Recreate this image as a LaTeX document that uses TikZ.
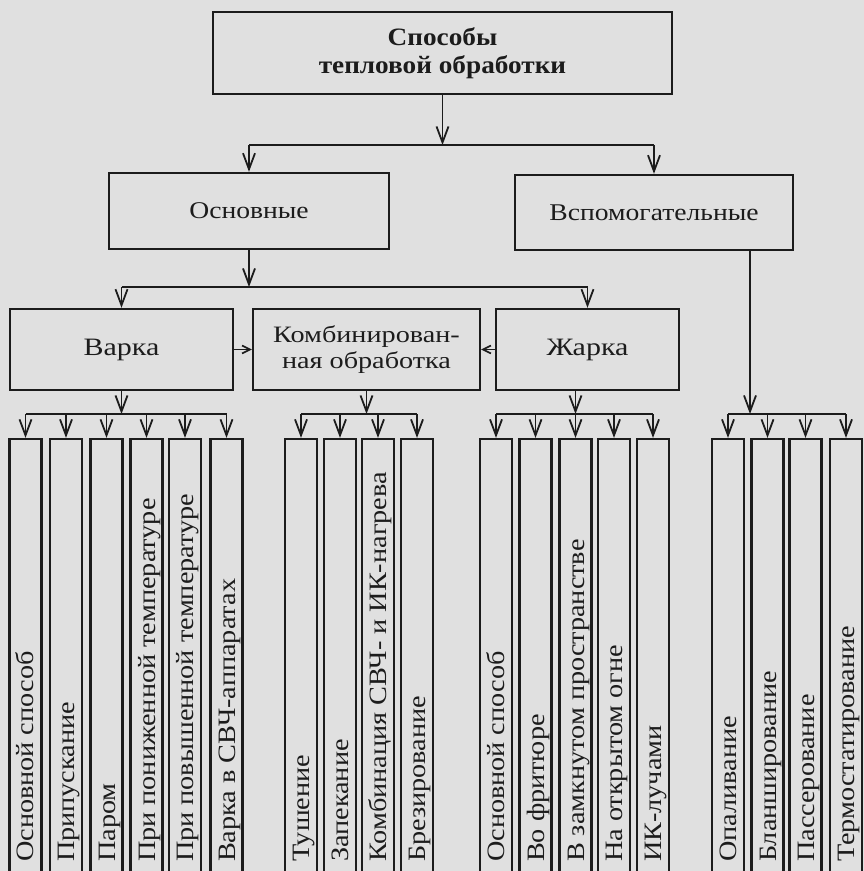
\documentclass[tikz,border=0pt]{standalone}
\usepackage{fontspec}
\setmainfont{Liberation Serif}
\newfontfamily\headfont[FakeStretch=1.09]{Liberation Serif}
\newfontfamily\firstfont[FakeStretch=1.15]{Liberation Serif}
\newfontfamily\secondfont[FakeStretch=1.2]{Liberation Serif}
\newfontfamily\leaffont[FakeStretch=1.13]{Liberation Serif}
\usetikzlibrary{arrows.meta,calc}
\definecolor{paper}{RGB}{224,224,224}
\definecolor{inkc}{RGB}{28,28,28}
\begin{document}
\begin{tikzpicture}[x=1pt,y=-1pt,
  hbox/.style={draw=inkc,line width=2.4pt,rectangle,inner sep=0pt,align=center,
    text=inkc},
  firstrow/.style={hbox,font=\firstfont\fontsize{24}{26}\selectfont},
  secondrow/.style={hbox,font=\secondfont\fontsize{25}{26}\selectfont},
  leaf/.style={draw=inkc,line width=2.2pt,rectangle,inner sep=0pt,
    minimum width=32pt,minimum height=435pt},
  leaftext/.style={rotate=90,anchor=base west,inner sep=0pt,text=inkc,
    font=\leaffont\fontsize{25}{25}\selectfont},
  arr/.style={draw=inkc,line width=1.8pt,-{Straight Barb[length=16pt,width=12pt]}},
  sidearr/.style={draw=inkc,line width=1.6pt,-{Straight Barb[length=8pt,width=8pt]}},
  bus/.style={draw=inkc,line width=1.8pt}]

% sheet
\fill[paper] (0,0) rectangle (864,871);
\useasboundingbox (0,0) rectangle (864,871);
\clip (0,0) rectangle (864,871);

% levels of the bus lines
\coordinate (b0) at (0,145);
\coordinate (b1) at (0,287);
\coordinate (b2) at (0,414);
\coordinate (vt) at (750,0);

% upper boxes
\node[hbox,font=\headfont\bfseries\fontsize{25}{28}\selectfont,minimum width=459pt,minimum height=82pt]
  (top) at (442.5,53) {Способы\\тепловой обработки};
\node[firstrow,minimum width=280pt,minimum height=76pt] (osn) at (249,211) {Основные};
\node[firstrow,minimum width=278pt,minimum height=75pt] (vsp) at (654,212.5) {Вспомогательные};
\node[secondrow,minimum width=223pt,minimum height=81pt] (varka) at (121.5,349.5) {Варка};
\node[secondrow,font=\secondfont\fontsize{23.5}{26}\selectfont,minimum width=227pt,minimum height=81pt]
  (komb) at (366.5,349.5) {Комбинирован-\\ная обработка};
\node[secondrow,minimum width=183pt,minimum height=81pt] (zharka) at (587.5,349.5) {Жарка};

% tall leaf boxes with rotated captions
\foreach \n/\x/\t in {
  v1/25.5/Основной способ, v2/66/Припускание, v3/106.5/Паром,
  v4/146.5/При пониженной температуре, v5/185/При повышенной температуре,
  v6/226.5/Варка в СВЧ-аппаратах,
  k1/301/Тушение, k2/340/Запекание, k3/378/Комбинация СВЧ- и ИК-нагрева,
  k4/417/Брезирование,
  z1/496/Основной способ, z2/535.5/Во фритюре, z3/575.5/В замкнутом пространстве,
  z4/614/На открытом огне, z5/653/ИК-лучами,
  s1/728/Опаливание, s2/767.5/Бланширование, s3/805.5/Пассерование,
  s4/846/Термостатирование} {
  \node[leaf] (\n) at (\x,656.5) {};
  \node[leaftext] (\n-t) at ($(\n.south)+(8.5,-13)$) {\t};
}

% first level
\draw[arr] (top.south) -- (top.south |- b0);
\draw[bus] (osn.north |- b0) -- (vsp.north |- b0);
\draw[arr] (osn.north |- b0) -- (osn.north);
\draw[arr] (vsp.north |- b0) -- (vsp.north);

% second level
\draw[arr] (osn.south) -- (osn.south |- b1);
\draw[bus] (varka.north |- b1) -- (zharka.north |- b1);
\draw[arr] (varka.north |- b1) -- (varka.north);
\draw[arr] (zharka.north |- b1) -- (zharka.north);
\draw[sidearr] (varka.east) -- (komb.west);
\draw[sidearr] (zharka.west) -- (komb.east);

% third level
\draw[arr] (varka.south) -- (varka.south |- b2);
\draw[bus] (v1.north |- b2) -- (v6.north |- b2);
\foreach \n in {v1,v2,v3,v4,v5,v6} \draw[arr] (\n.north |- b2) -- (\n.north);

\draw[arr] (komb.south) -- (komb.south |- b2);
\draw[bus] (k1.north |- b2) -- (k4.north |- b2);
\foreach \n in {k1,k2,k3,k4} \draw[arr] (\n.north |- b2) -- (\n.north);

\draw[arr] (zharka.south -| z3) -- (z3 |- b2);
\draw[bus] (z1.north |- b2) -- (z5.north |- b2);
\foreach \n in {z1,z2,z3,z4,z5} \draw[arr] (\n.north |- b2) -- (\n.north);

\draw[arr] (vsp.south -| vt) -- (vt |- b2);
\draw[bus] (s1.north |- b2) -- (s4.north |- b2);
\foreach \n in {s1,s2,s3,s4} \draw[arr] (\n.north |- b2) -- (\n.north);
\end{tikzpicture}
\end{document}
